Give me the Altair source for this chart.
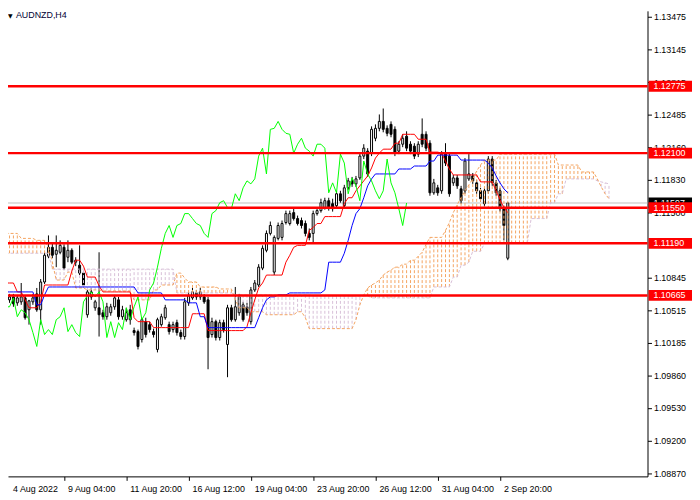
import altair as alt
import pandas as pd

TITLE = "AUDNZD,H4"

OPEN = [1.1067, 1.1062, 1.1065, 1.1059, 1.1060, 1.1064, 1.1052, 1.1060, 1.1068, 1.1052,
        1.1080, 1.1106, 1.1115, 1.1108, 1.1110, 1.1115, 1.1105, 1.1112, 1.1100, 1.1097,
        1.1089, 1.1047, 1.1065, 1.1054, 1.1054, 1.1049, 1.1045, 1.1049, 1.1055, 1.1062,
        1.1045, 1.1042, 1.1052, 1.1031, 1.1030, 1.1022, 1.1040, 1.1037, 1.1030, 1.1012,
        1.1037, 1.1044, 1.1037, 1.1032, 1.1039, 1.1029, 1.1025, 1.1059, 1.1064, 1.1069,
        1.1065, 1.1065, 1.1062, 1.1027, 1.1040, 1.1024, 1.1039, 1.1017, 1.1054, 1.1042,
        1.1049, 1.1057, 1.1055, 1.1040, 1.1072, 1.1077, 1.1094, 1.1112, 1.1129, 1.1090,
        1.1124, 1.1125, 1.1140, 1.1139, 1.1150, 1.1144, 1.1142, 1.1139, 1.1129, 1.1129,
        1.1149, 1.1152, 1.1155, 1.1162, 1.1159, 1.1157, 1.1169, 1.1157, 1.1175, 1.1182,
        1.1179, 1.1185, 1.1207, 1.1212, 1.1210, 1.1225, 1.1235, 1.1242, 1.1235, 1.1239,
        1.1234, 1.1212, 1.1219, 1.1227, 1.1219, 1.1217, 1.1209, 1.1229, 1.1229, 1.1220,
        1.1170, 1.1175, 1.1172, 1.1209, 1.1207, 1.1180, 1.1185, 1.1174, 1.1172, 1.1184,
        1.1187, 1.1180, 1.1172, 1.1159, 1.1172, 1.1204, 1.1180, 1.1172, 1.1154, 1.1104]

HIGH = [1.1070, 1.1068, 1.1068, 1.1067, 1.1079, 1.1066, 1.1062, 1.1068, 1.1074, 1.1083,
        1.1110, 1.1127, 1.1119, 1.1127, 1.1122, 1.1118, 1.1122, 1.1114, 1.1105, 1.1117,
        1.1091, 1.1072, 1.1074, 1.1062, 1.1110, 1.1052, 1.1059, 1.1058, 1.1067, 1.1065,
        1.1056, 1.1054, 1.1057, 1.1034, 1.1032, 1.1044, 1.1044, 1.1040, 1.1033, 1.1044,
        1.1048, 1.1057, 1.1040, 1.1040, 1.1042, 1.1032, 1.1064, 1.1070, 1.1074, 1.1072,
        1.1074, 1.1068, 1.1065, 1.1044, 1.1042, 1.1042, 1.1042, 1.1057, 1.1057, 1.1075,
        1.1068, 1.1060, 1.1059, 1.1075, 1.1082, 1.1098, 1.1117, 1.1132, 1.1141, 1.1127,
        1.1140, 1.1142, 1.1152, 1.1152, 1.1154, 1.1147, 1.1145, 1.1142, 1.1134, 1.1152,
        1.1155, 1.1164, 1.1165, 1.1165, 1.1164, 1.1172, 1.1172, 1.1178, 1.1185, 1.1186,
        1.1187, 1.1210, 1.1219, 1.1215, 1.1237, 1.1239, 1.1249, 1.1255, 1.1238, 1.1242,
        1.1237, 1.1222, 1.1229, 1.1232, 1.1222, 1.1220, 1.1222, 1.1245, 1.1232, 1.1223,
        1.1184, 1.1178, 1.1212, 1.1220, 1.1210, 1.1188, 1.1188, 1.1177, 1.1205, 1.1209,
        1.1190, 1.1183, 1.1175, 1.1175, 1.1207, 1.1207, 1.1183, 1.1175, 1.1157, 1.1160]

LOW = [1.1061, 1.1059, 1.1055, 1.1056, 1.1057, 1.1042, 1.1037, 1.1057, 1.1050, 1.1037,
       1.1078, 1.1104, 1.1104, 1.1095, 1.1108, 1.1092, 1.1100, 1.1098, 1.1096, 1.1087,
       1.1074, 1.1044, 1.1062, 1.1051, 1.1025, 1.1042, 1.1042, 1.1046, 1.1052, 1.1042,
       1.1042, 1.1040, 1.1037, 1.1026, 1.1012, 1.1019, 1.1024, 1.1029, 1.1024, 1.1009,
       1.1035, 1.1042, 1.1027, 1.1029, 1.1026, 1.1022, 1.1022, 1.1056, 1.1062, 1.1062,
       1.1062, 1.1058, 1.0992, 1.1024, 1.1021, 1.1021, 1.1029, 1.0984, 1.1040, 1.1040,
       1.1046, 1.1040, 1.1046, 1.1037, 1.1070, 1.1075, 1.1092, 1.1110, 1.1127, 1.1087,
       1.1122, 1.1122, 1.1138, 1.1137, 1.1142, 1.1137, 1.1134, 1.1126, 1.1122, 1.1120,
       1.1147, 1.1150, 1.1153, 1.1152, 1.1151, 1.1155, 1.1160, 1.1155, 1.1173, 1.1176,
       1.1176, 1.1183, 1.1204, 1.1186, 1.1207, 1.1222, 1.1232, 1.1231, 1.1227, 1.1226,
       1.1207, 1.1209, 1.1216, 1.1212, 1.1209, 1.1204, 1.1206, 1.1216, 1.1212, 1.1167,
       1.1168, 1.1167, 1.1169, 1.1197, 1.1166, 1.1177, 1.1174, 1.1159, 1.1169, 1.1182,
       1.1179, 1.1169, 1.1161, 1.1156, 1.1169, 1.1177, 1.1167, 1.1151, 1.1122, 1.1102]

CLOSE = [1.1064, 1.1065, 1.1058, 1.1064, 1.1065, 1.1044, 1.1061, 1.1064, 1.1052, 1.1080,
         1.1107, 1.1115, 1.1107, 1.1112, 1.1117, 1.1094, 1.1112, 1.1100, 1.1102, 1.1089,
         1.1077, 1.1070, 1.1070, 1.1060, 1.1047, 1.1045, 1.1055, 1.1055, 1.1064, 1.1045,
         1.1052, 1.1049, 1.1042, 1.1029, 1.1015, 1.1042, 1.1027, 1.1032, 1.1027, 1.1042,
         1.1045, 1.1054, 1.1030, 1.1037, 1.1029, 1.1025, 1.1060, 1.1066, 1.1070, 1.1065,
         1.1070, 1.1060, 1.1024, 1.1040, 1.1024, 1.1039, 1.1032, 1.1054, 1.1042, 1.1055,
         1.1065, 1.1042, 1.1049, 1.1072, 1.1079, 1.1095, 1.1114, 1.1129, 1.1137, 1.1125,
         1.1137, 1.1139, 1.1149, 1.1149, 1.1144, 1.1139, 1.1137, 1.1129, 1.1125, 1.1149,
         1.1152, 1.1160, 1.1162, 1.1155, 1.1154, 1.1169, 1.1162, 1.1175, 1.1182, 1.1179,
         1.1184, 1.1207, 1.1215, 1.1189, 1.1234, 1.1235, 1.1242, 1.1234, 1.1230, 1.1229,
         1.1210, 1.1219, 1.1225, 1.1215, 1.1212, 1.1207, 1.1219, 1.1219, 1.1215, 1.1170,
         1.1180, 1.1170, 1.1209, 1.1200, 1.1169, 1.1185, 1.1177, 1.1162, 1.1202, 1.1189,
         1.1182, 1.1172, 1.1164, 1.1172, 1.1204, 1.1180, 1.1170, 1.1154, 1.1137, 1.11597]

TENKAN = [1.1079, 1.1079, 1.1079, 1.1070, 1.1070, 1.1062, 1.1054, 1.1054, 1.1054, 1.1060,
          1.1077, 1.1077, 1.1077, 1.1077, 1.1077, 1.1077, 1.1077, 1.1091, 1.1102, 1.1102,
          1.1096, 1.1085, 1.1085, 1.1085, 1.1076, 1.1070, 1.1070, 1.1070, 1.1070, 1.1070,
          1.1070, 1.1070, 1.1070, 1.1044, 1.1040, 1.1040, 1.1040, 1.1040, 1.1034, 1.1034,
          1.1034, 1.1034, 1.1034, 1.1034, 1.1034, 1.1034, 1.1034, 1.1034, 1.1048, 1.1048,
          1.1048, 1.1048, 1.1031, 1.1031, 1.1031, 1.1031, 1.1031, 1.1031, 1.1031, 1.1031,
          1.1031, 1.1031, 1.1035, 1.1049, 1.1062, 1.1074, 1.1079, 1.1087, 1.1087, 1.1087,
          1.1087, 1.1087, 1.1100, 1.1107, 1.1115, 1.1117, 1.1117, 1.1117, 1.1132, 1.1135,
          1.1139, 1.1139, 1.1146, 1.1146, 1.1146, 1.1146, 1.1146, 1.1159, 1.1165, 1.1165,
          1.1172, 1.1177, 1.1182, 1.1187, 1.1195, 1.1205, 1.1210, 1.1214, 1.1214, 1.1214,
          1.1220, 1.1220, 1.1229, 1.1229, 1.1229, 1.1229, 1.1224, 1.1224, 1.1224, 1.1211,
          1.1211, 1.1211, 1.1210, 1.1202, 1.1194, 1.1188, 1.1188, 1.1188, 1.1188, 1.1188,
          1.1188, 1.1188, 1.1181, 1.1181, 1.1181, 1.1181, 1.1172, 1.1163, 1.1155, 1.1150]

KIJUN = [1.1070, 1.1070, 1.1070, 1.1070, 1.1070, 1.1070, 1.1070, 1.1070, 1.1057, 1.1057,
         1.1067, 1.1075, 1.1075, 1.1075, 1.1075, 1.1075, 1.1075, 1.1075, 1.1075, 1.1075,
         1.1075, 1.1075, 1.1075, 1.1075, 1.1075, 1.1075, 1.1075, 1.1075, 1.1075, 1.1075,
         1.1075, 1.1075, 1.1075, 1.1075, 1.1069, 1.1069, 1.1069, 1.1069, 1.1069, 1.1069,
         1.1069, 1.1062, 1.1062, 1.1062, 1.1062, 1.1062, 1.1062, 1.1059, 1.1059, 1.1059,
         1.1045, 1.1045, 1.1034, 1.1034, 1.1034, 1.1034, 1.1034, 1.1034, 1.1034, 1.1034,
         1.1034, 1.1034, 1.1034, 1.1034, 1.1034, 1.1044, 1.1054, 1.1062, 1.1065, 1.1065,
         1.1067, 1.1067, 1.1067, 1.1069, 1.1069, 1.1069, 1.1069, 1.1069, 1.1069, 1.1069,
         1.1069, 1.1069, 1.1072, 1.1100, 1.1100, 1.1100, 1.1100, 1.1109, 1.1122, 1.1137,
         1.1149, 1.1154, 1.1165, 1.1177, 1.1184, 1.1189, 1.1189, 1.1189, 1.1189, 1.1189,
         1.1189, 1.1194, 1.1194, 1.1194, 1.1194, 1.1197, 1.1197, 1.1197, 1.1197, 1.1202,
         1.1202, 1.1208, 1.1208, 1.1208, 1.1208, 1.1208, 1.1208, 1.1203, 1.1203, 1.1203,
         1.1203, 1.1203, 1.1203, 1.1203, 1.1200, 1.1195, 1.1187, 1.1180, 1.1174, 1.1170]

SPAN_A = [1.1129, 1.1129, 1.1129, 1.1129, 1.1124, 1.1124, 1.1124, 1.1124, 1.1122, 1.1122,
          1.1122, 1.1115, 1.1100, 1.1082, 1.1082, 1.1082, 1.1090, 1.1090, 1.1074, 1.1074,
          1.1074, 1.1072, 1.1072, 1.1072, 1.1072, 1.1071, 1.1071, 1.1071, 1.1071, 1.1071,
          1.1071, 1.1071, 1.1071, 1.1062, 1.1062, 1.1062, 1.1062, 1.1062, 1.1072, 1.1072,
          1.1077, 1.1077, 1.1077, 1.1077, 1.1089, 1.1089, 1.1084, 1.1080, 1.1080, 1.1080,
          1.1075, 1.1075, 1.1075, 1.1075, 1.1075, 1.1073, 1.1073, 1.1073, 1.1073, 1.1062,
          1.1054, 1.1054, 1.1054, 1.1050, 1.1050, 1.1050, 1.1050, 1.1047, 1.1047, 1.1047,
          1.1047, 1.1047, 1.1047, 1.1047, 1.1047, 1.1050, 1.1050, 1.1044, 1.1033, 1.1033,
          1.1033, 1.1033, 1.1033, 1.1033, 1.1033, 1.1033, 1.1033, 1.1033, 1.1033, 1.1033,
          1.1042, 1.1057, 1.1067, 1.1074, 1.1077, 1.1079, 1.1082, 1.1087, 1.1090, 1.1092,
          1.1095, 1.1095, 1.1098, 1.1098, 1.1102, 1.1102, 1.1106, 1.1110, 1.1118, 1.1125,
          1.1125, 1.1125, 1.1125, 1.1132, 1.1140, 1.1150, 1.1158, 1.1165, 1.1172, 1.1178,
          1.1184, 1.1192, 1.1198, 1.1203, 1.1203, 1.1203, 1.1203, 1.1209, 1.1209, 1.1209,
          1.1209, 1.1209, 1.1209, 1.1209, 1.1209, 1.1209, 1.1209, 1.1209, 1.1209, 1.1209,
          1.1209, 1.1209, 1.1198, 1.1198, 1.1198, 1.1198, 1.1198, 1.1198, 1.1191, 1.1191,
          1.1191, 1.1191, 1.1184, 1.1176, 1.1169, 1.1164]

SPAN_B = [1.1109, 1.1109, 1.1109, 1.1109, 1.1109, 1.1109, 1.1109, 1.1109, 1.1109, 1.1109,
          1.1109, 1.1109, 1.1093, 1.1093, 1.1093, 1.1093, 1.1093, 1.1093, 1.1093, 1.1093,
          1.1093, 1.1093, 1.1093, 1.1093, 1.1093, 1.1093, 1.1093, 1.1093, 1.1093, 1.1093,
          1.1093, 1.1093, 1.1093, 1.1093, 1.1093, 1.1093, 1.1093, 1.1093, 1.1093, 1.1093,
          1.1093, 1.1093, 1.1093, 1.1093, 1.1069, 1.1069, 1.1069, 1.1069, 1.1069, 1.1069,
          1.1069, 1.1069, 1.1069, 1.1069, 1.1069, 1.1069, 1.1069, 1.1069, 1.1069, 1.1067,
          1.1067, 1.1067, 1.1067, 1.1067, 1.1067, 1.1067, 1.1067, 1.1067, 1.1067, 1.1067,
          1.1067, 1.1067, 1.1067, 1.1067, 1.1067, 1.1067, 1.1067, 1.1067, 1.1067, 1.1066,
          1.1066, 1.1066, 1.1066, 1.1066, 1.1066, 1.1066, 1.1066, 1.1066, 1.1066, 1.1066,
          1.1066, 1.1066, 1.1066, 1.1066, 1.1064, 1.1064, 1.1064, 1.1064, 1.1064, 1.1064,
          1.1064, 1.1064, 1.1064, 1.1064, 1.1064, 1.1064, 1.1064, 1.1064, 1.1064, 1.1064,
          1.1075, 1.1075, 1.1075, 1.1075, 1.1075, 1.1085, 1.1085, 1.1097, 1.1097, 1.1100,
          1.1111, 1.1111, 1.1111, 1.1119, 1.1119, 1.1119, 1.1119, 1.1119, 1.1119, 1.1119,
          1.1119, 1.1119, 1.1119, 1.1119, 1.1119, 1.1144, 1.1144, 1.1144, 1.1144, 1.1144,
          1.1160, 1.1160, 1.1169, 1.1169, 1.1184, 1.1184, 1.1184, 1.1184, 1.1184, 1.1184,
          1.1184, 1.1184, 1.1182, 1.1181, 1.1180, 1.1179]

CHIKOU_SHIFT = 26
LEVELS = [1.12775, 1.12100, 1.11550, 1.11190, 1.10665]
BID = 1.11597
Y_TICKS = [1.13475, 1.13145, 1.12815, 1.12485, 1.12160, 1.11830, 1.11500,
           1.10845, 1.10515, 1.10185, 1.09860, 1.09530, 1.09200, 1.08870]
X_TICK_BARS = [-1, 15, 31, 47, 63, 79, 95, 111, 127]
X_TICK_TEXT = ["4 Aug 2022", "9 Aug 04:00", "11 Aug 20:00", "16 Aug 12:00", "19 Aug 04:00",
               "23 Aug 20:00", "26 Aug 12:00", "31 Aug 04:00", "2 Sep 20:00"]

# ---------------- layout ----------------
PW, PH = 647, 471
X_DOM = [1.875, 163.625]
Y_DOM = [1.088394, 1.135352]
FONT = "Liberation Sans"
FS = 9
RED = "#ff0000"
ORANGE = "#f4a460"
THISTLE = "#d8bfd8"
BOX_HALF = 0.00055

n = len(CLOSE)
bars = pd.DataFrame({"i": list(range(n)), "open": OPEN, "high": HIGH, "low": LOW,
                     "close": CLOSE, "tenkan": TENKAN, "kijun": KIJUN})
bars["top"] = bars[["open", "close"]].max(axis=1)
bars["bot"] = bars[["open", "close"]].min(axis=1)
bull = bars[bars["close"] >= bars["open"]]
bear = bars[bars["close"] < bars["open"]]

cloud = pd.DataFrame({"i": list(range(len(SPAN_A))), "a": SPAN_A, "b": SPAN_B})
cloud["lo"] = cloud[["a", "b"]].min(axis=1)
cloud["hi"] = cloud[["a", "b"]].max(axis=1)
cloud_up = cloud[cloud["a"] >= cloud["b"]]
cloud_dn = cloud[cloud["a"] < cloud["b"]]

chikou = pd.DataFrame({"i": list(range(n - CHIKOU_SHIFT)), "c": CLOSE[CHIKOU_SHIFT:]})

levels = pd.DataFrame({"price": LEVELS, "label": [f"{v:.5f}" for v in LEVELS]})
bid = pd.DataFrame({"price": [BID], "label": [f"{BID:.5f}"]})
dates = pd.DataFrame({"bar": X_TICK_BARS, "text": X_TICK_TEXT})

xs = alt.Scale(domain=X_DOM, nice=False, zero=False)
ys = alt.Scale(domain=Y_DOM, nice=False, zero=False)
xaxis = alt.Axis(orient="bottom", values=[b for b in X_TICK_BARS if b >= X_DOM[0]],
                 labels=False, ticks=True, tickSize=4, tickColor="black", tickWidth=1,
                 domainColor="black", domainWidth=1, grid=False, title=None)
yaxis = alt.Axis(orient="right", values=Y_TICKS, format=".5f", ticks=True, tickSize=4,
                 tickColor="black", tickWidth=1, domainColor="black", domainWidth=1,
                 labelPadding=2, labelFont=FONT, labelFontSize=FS, labelColor="black",
                 labelOverlap=False, labelFlush=False, grid=False, title=None)


def X(field="i"):
    return alt.X(f"{field}:Q", scale=xs, axis=xaxis)


def Y(field):
    return alt.Y(f"{field}:Q", scale=ys, axis=yaxis)


layers = []

# bid line
layers.append(alt.Chart(bid).mark_rule(color="#c0c0c0", strokeWidth=1).encode(y=Y("price")))

# candles: wicks (split so hollow bodies stay hollow)
layers.append(alt.Chart(bars).mark_rule(color="black", strokeWidth=1).encode(
    x=X(), y=Y("top"), y2="high:Q"))
layers.append(alt.Chart(bars).mark_rule(color="black", strokeWidth=1).encode(
    x=X(), y=Y("low"), y2="bot:Q"))
layers.append(alt.Chart(bull).mark_bar(size=2, fill="white", fillOpacity=0, stroke="black",
                                       strokeWidth=1).encode(x=X(), y=Y("bot"), y2="top:Q"))
layers.append(alt.Chart(bear).mark_bar(size=2, fill="black", stroke="black",
                                       strokeWidth=1).encode(x=X(), y=Y("bot"), y2="top:Q"))

# kumo hatch
layers.append(alt.Chart(cloud_up).mark_rule(color=ORANGE, strokeWidth=1, strokeDash=[3, 2]).encode(
    x=X(), y=Y("lo"), y2="hi:Q"))
layers.append(alt.Chart(cloud_dn).mark_rule(color=THISTLE, strokeWidth=1, strokeDash=[3, 2]).encode(
    x=X(), y=Y("lo"), y2="hi:Q"))
# span lines
layers.append(alt.Chart(cloud).mark_line(color=ORANGE, strokeWidth=1, strokeDash=[3, 2]).encode(
    x=X(), y=Y("a")))
layers.append(alt.Chart(cloud).mark_line(color=THISTLE, strokeWidth=1, strokeDash=[3, 2]).encode(
    x=X(), y=Y("b")))

# tenkan / kijun / chikou
layers.append(alt.Chart(bars).mark_line(color=RED, strokeWidth=1).encode(x=X(), y=Y("tenkan")))
layers.append(alt.Chart(bars).mark_line(color="#0000ff", strokeWidth=1).encode(x=X(), y=Y("kijun")))
layers.append(alt.Chart(chikou).mark_line(color="#00ff00", strokeWidth=1).encode(x=X(), y=Y("c")))

# horizontal levels
layers.append(alt.Chart(levels).mark_rule(color=RED, strokeWidth=2.5).encode(y=Y("price")))

# price boxes on the right axis
def price_box(df, fill):
    box = alt.Chart(df).transform_calculate(
        lo=f"datum.price - {BOX_HALF}", hi=f"datum.price + {BOX_HALF}"
    ).mark_rect(color=fill).encode(
        x=alt.value(PW + 1), x2=alt.value(PW + 45), y=Y("lo"), y2="hi:Q")
    txt = alt.Chart(df).mark_text(align="left", baseline="middle", color="white",
                                  font=FONT, fontSize=FS).encode(
        x=alt.value(PW + 6), y=Y("price"), text="label:N")
    return [box, txt]


layers += price_box(bid, "black")
layers += price_box(levels, RED)

# date labels
layers.append(alt.Chart(dates).transform_calculate(
    xb=f"max(datum.bar, {X_DOM[0] - 1.0})"
).mark_text(align="left", baseline="middle", dx=4, font=FONT, fontSize=FS, color="black").encode(
    x=alt.X("xb:Q", scale=xs, axis=xaxis), y=alt.value(PH + 13), text="text:N"))

# title
layers.append(alt.Chart(pd.DataFrame({"t": ["\u25bc"]})).mark_text(
    align="left", baseline="top", font="DejaVu Sans", fontSize=6, color="black").encode(
    x=alt.value(0), y=alt.value(2), text="t:N"))
layers.append(alt.Chart(pd.DataFrame({"t": [TITLE]})).mark_text(
    align="left", baseline="top", font=FONT, fontSize=FS, color="#000033").encode(
    x=alt.value(8), y=alt.value(0), text="t:N"))

chart = alt.layer(*layers).properties(
    width=PW, height=PH,
    padding={"left": 0, "top": 0, "right": 45, "bottom": 20},
    autosize=alt.AutoSizeParams(type="none"),
    background="white",
).configure_view(stroke=None)

chart.save("out.html", embed_options={"renderer": "svg", "actions": False})
